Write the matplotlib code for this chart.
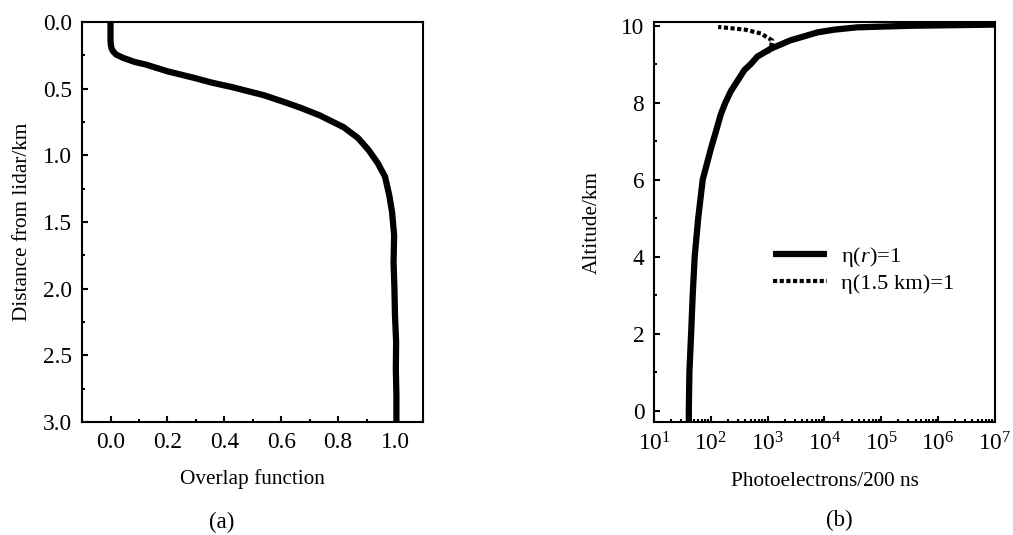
import matplotlib
matplotlib.use("Agg")
import matplotlib.pyplot as plt
from matplotlib.ticker import MultipleLocator, LogLocator, NullFormatter

plt.rcParams['font.family'] = ['Liberation Serif', 'DejaVu Serif']
plt.rcParams['mathtext.fontset'] = 'custom'
plt.rcParams['mathtext.rm'] = 'Liberation Serif'
plt.rcParams['mathtext.it'] = 'Liberation Serif:italic'
plt.rcParams['mathtext.default'] = 'regular'

# (a) overlap function vs distance
dist_km = [0, 0.1, 0.135, 0.17, 0.2, 0.22, 0.245, 0.27, 0.3, 0.32, 0.37, 0.42, 0.455,
           0.49, 0.55, 0.6, 0.645, 0.7, 0.79, 0.87, 0.96, 1.06, 1.16, 1.3, 1.43, 1.6,
           1.8, 2.0, 2.2, 2.4, 2.6, 2.8, 3.0]
overlap = [0.0, 0.0, 0.0, 0.001, 0.004, 0.009, 0.02, 0.045, 0.085, 0.125, 0.2, 0.295,
           0.356, 0.43, 0.54, 0.61, 0.67, 0.735, 0.82, 0.87, 0.907, 0.94, 0.965, 0.98,
           0.99, 0.997, 0.995, 0.998, 1.0, 1.004, 1.003, 1.005, 1.005]

# (b) photoelectrons vs altitude
alt_full = [-0.3, 0, 1, 2, 3, 4, 5, 6, 6.8, 7.2, 7.7, 8.0, 8.3, 8.85, 9.0, 9.2, 9.4,
            9.62, 9.83, 9.9, 9.96, 10.0, 10.03]
pe_full = [41, 41, 42, 45, 48, 52, 60, 72, 100, 120, 150, 180, 225, 390, 500, 660, 1120,
           2500, 7600, 15000, 38000, 320000, 9800000]
alt_15 = [9.3, 9.45, 9.62, 9.8, 9.9, 9.97]
pe_15 = [1000, 1150, 1200, 760, 400, 135]

fig = plt.figure(figsize=(10.13, 5.35), dpi=100)
ax1 = fig.add_axes([0.081, 0.211, 0.337, 0.748])
ax2 = fig.add_axes([0.6456, 0.211, 0.3366, 0.748])

fs = 15.3
tfs = 16.8
for ax in (ax1, ax2):
    for s in ax.spines.values():
        s.set_linewidth(1.5)
    ax.tick_params(which='both', direction='in', top=False, right=False,
                   width=1.5, labelsize=tfs, pad=7)
    ax.tick_params(which='major', length=4.5)
    ax.tick_params(which='minor', length=2.5)

ax1.plot(overlap, dist_km, color='black', lw=4.5, solid_capstyle='butt')
ax1.set_xlim(-0.1, 1.1)
ax1.set_ylim(3.0, 0.0)
ax1.xaxis.set_major_locator(MultipleLocator(0.2))
ax1.xaxis.set_minor_locator(MultipleLocator(0.1))
ax1.yaxis.set_major_locator(MultipleLocator(0.5))
ax1.yaxis.set_minor_locator(MultipleLocator(0.25))
ax1.xaxis.set_major_formatter(plt.FuncFormatter(lambda v, p: f"{v:.1f}"))
ax1.yaxis.set_major_formatter(plt.FuncFormatter(lambda v, p: f"{v:.1f}"))
ax1.set_xlabel("Overlap function", fontsize=fs, labelpad=12)
ax1.set_ylabel("Distance from lidar/km", fontsize=fs, labelpad=8)

ax2.plot(pe_full, alt_full, color='black', lw=4.5, solid_capstyle='butt',
         label=r"η($\mathit{r}$)=1")
ax2.plot(pe_15, alt_15, color='black', lw=3, linestyle=(0, (1, 0.6)),
         dash_capstyle='butt', label="η(1.5 km)=1")
ax2.set_xscale('log')
ax2.set_xlim(10, 1e7)
ax2.set_ylim(-0.3, 10.1)
ax2.xaxis.set_major_locator(LogLocator(base=10, numticks=10))
ax2.xaxis.set_minor_locator(LogLocator(base=10, subs=range(2, 10), numticks=20))
ax2.xaxis.set_minor_formatter(NullFormatter())
ax2.yaxis.set_major_locator(MultipleLocator(2))
ax2.yaxis.set_minor_locator(MultipleLocator(1))
ax2.set_xlabel("Photoelectrons/200 ns", fontsize=fs, labelpad=12)
ax2.set_ylabel("Altitude/km", fontsize=fs, labelpad=14)
ax2.legend(loc='center left', bbox_to_anchor=(0.35, 0.381), frameon=False,
           fontsize=16.2, handlelength=2.4, handletextpad=0.6, labelspacing=0.2,
           borderpad=0, borderaxespad=0)

fig.text(0.219, 1 - 522 / 535, "(a)", ha='center', va='center', fontsize=16.5)
fig.text(0.829, 1 - 520 / 535, "(b)", ha='center', va='center', fontsize=16.5)

fig.savefig("out.png", dpi=100)
